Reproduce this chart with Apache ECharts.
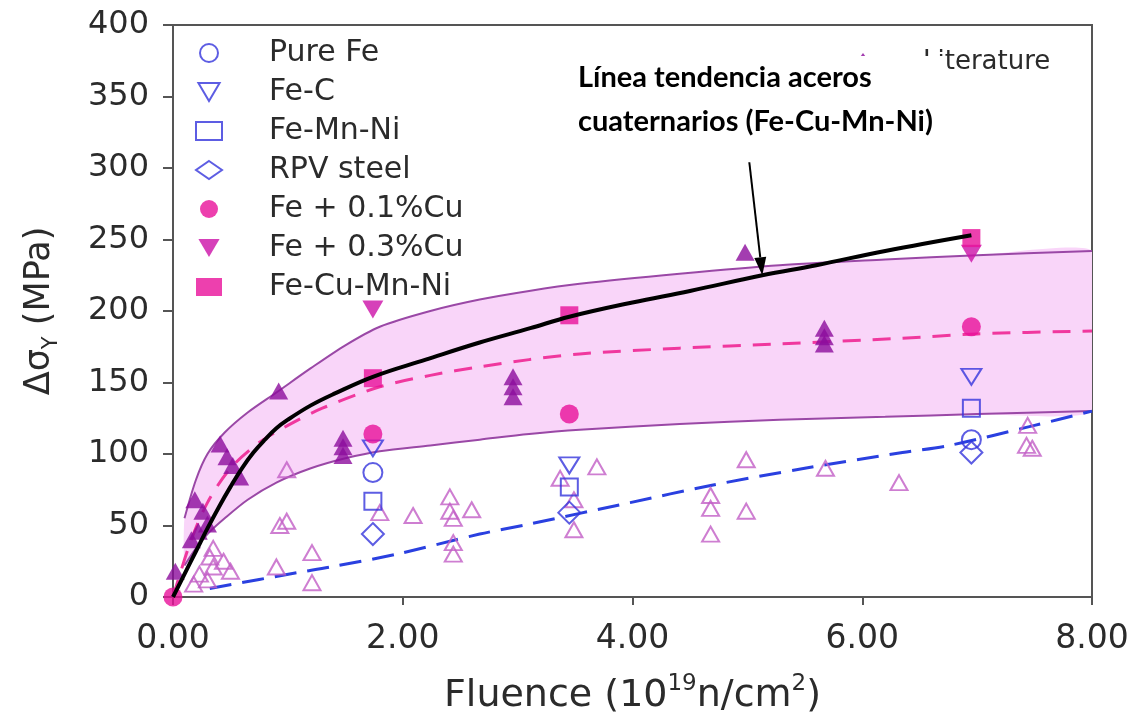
<!DOCTYPE html>
<html>
<head>
<meta charset="utf-8">
<script src="https://cdn.jsdelivr.net/npm/echarts@6/dist/echarts.min.js"></script>
<style>
  html, body { margin: 0; padding: 0; background: #fff; }
  #chart { width: 1138px; height: 724px; }
</style>
</head>
<body>
<div id="chart"></div>
<script>
// ---- data ----
const xTicks = [0, 2, 4, 6, 8];
const yTicks = [0, 50, 100, 150, 200, 250, 300, 350, 400];

const pureFe   = [[1.74, 87], [6.95, 110]];
const feC      = [[1.74, 104], [3.45, 92], [6.95, 154]];
const feMnNi   = [[1.74, 67], [3.45, 77], [6.95, 132]];
const rpvSteel = [[1.74, 44], [3.45, 59], [6.95, 101]];
const fe01Cu   = [[0, 0], [1.74, 114], [3.45, 128], [6.95, 189]];
const fe03Cu   = [[1.74, 201], [6.95, 240]];
const feCuMnNi = [[1.74, 153], [3.45, 197], [6.95, 251]];

const litFilled = [[0.02, 18], [0.16, 40], [0.22, 46], [0.19, 68], [0.26, 60], [0.3, 51],
  [0.41, 107], [0.47, 98], [0.52, 92], [0.58, 84], [0.92, 144],
  [1.48, 111], [1.48, 105], [1.48, 99], [2.96, 154], [2.96, 147], [2.96, 140],
  [4.98, 241], [5.67, 188], [5.67, 182], [5.67, 177]];

const litOpen = [[0.18, 9], [0.23, 16], [0.3, 12], [0.32, 28], [0.35, 21], [0.35, 34],
  [0.44, 25], [0.5, 18], [0.9, 21], [0.93, 50], [0.99, 53], [0.99, 89],
  [1.21, 31], [1.21, 10], [1.8, 59], [2.09, 57], [2.41, 70], [2.41, 60], [2.44, 55],
  [2.6, 61], [2.44, 38], [2.44, 30], [3.37, 83], [3.49, 68], [3.49, 47], [3.69, 91],
  [4.68, 71], [4.68, 62], [4.68, 44], [4.99, 96], [4.99, 60], [5.68, 90], [6.32, 80],
  [7.44, 120], [7.43, 106], [7.48, 104]];

const bandX     = [0.1, 0.2, 0.3, 0.45, 0.65, 0.9, 1.2, 1.5, 1.8, 2.24, 2.67, 3.1, 3.54, 4.41, 5.28, 6.2, 7.0, 8.0];
const bandUpper = [55, 82, 100, 115, 129, 143, 160, 176, 189, 200, 208, 214, 219, 226, 232, 236, 239, 242];
const bandLower = [22, 34, 44, 55, 68, 80, 90, 97, 102, 106, 110, 114, 117, 121, 124, 126, 128, 130];

const cuTrend = [[0, 0], [0.15, 38], [0.3, 66], [0.5, 90], [0.75, 108], [1.0, 120], [1.3, 132], [1.8, 147],
  [2.24, 155], [2.67, 161], [3.1, 166], [3.54, 170], [4.41, 174], [5.28, 177], [6.35, 181], [7.0, 184], [8.0, 186]];

const blueTrend = [[0.32, 6], [1.08, 17], [1.37, 21], [1.95, 30], [2.67, 44], [3.1, 51], [3.98, 66],
  [4.68, 78], [5.5, 90], [6.35, 101], [6.76, 106], [7.5, 120], [8.0, 130]];

const quatTrend = [[0, 0], [0.1, 16], [0.2, 32], [0.3, 48], [0.4, 63], [0.5, 77], [0.6, 90],
  [0.7, 101], [0.8, 110], [0.9, 118], [1.0, 124], [1.2, 134], [1.4, 142], [1.74, 154],
  [2.2, 166], [2.67, 178], [3.11, 188], [3.45, 196], [4.0, 206], [4.5, 214], [5.13, 225],
  [5.6, 232], [6.2, 242], [6.95, 253]];

const arrowTarget = [5.13, 225];
const annotationText = 'Línea tendencia aceros\ncuaternarios (Fe-Cu-Mn-Ni)';

// ---- styles ----
const BLUE = '#3434dc';
const MAGENTA = '#e8109a';
const PURPLE = '#8c0c9c';
const OPEN_TRI = '#c25ec6';
const BAND_FILL = '#f9d5f9';
const BAND_LINE = '#9a48a6';
const TEXT = '#2b2b2b';
const FONT = 'DejaVu Sans';
const DOWN_TRI = 'path://M0,0L20,0L10,17Z';

const openStyle = (c) => ({ color: 'rgba(255,255,255,0)', borderColor: c, borderWidth: 2 });

const bandUpperPts = bandX.map((x, i) => [x, bandUpper[i]]);
const bandLowerPts = bandX.map((x, i) => [x, bandLower[i]]);

const chart = echarts.init(document.getElementById('chart'), null, { renderer: 'canvas' });

const legendText = { fontFamily: FONT, fontSize: 30, color: TEXT, lineHeight: 30, padding: [0, 0, 0, 42] };

const option = {
  backgroundColor: '#fff',
  animation: false,
  grid: { left: 173, right: 46, top: 25, bottom: 121, show: true, borderColor: '#555', borderWidth: 2, backgroundColor: 'transparent' },
  legend: [
    {
      orient: 'vertical', left: 190, top: 33, itemWidth: 26, itemHeight: 18, itemGap: 9,
      textStyle: legendText,
      data: ['Pure Fe', 'Fe-C', 'Fe-Mn-Ni', 'RPV steel', 'Fe + 0.1%Cu', 'Fe + 0.3%Cu', 'Fe-Cu-Mn-Ni']
    },
    {
      orient: 'vertical', left: 845, top: 42, itemWidth: 26, itemHeight: 18, z: 20,
      textStyle: Object.assign({}, legendText, { fontSize: 26 }),
      data: [{ name: 'Literature', icon: 'triangle' }]
    }
  ],
  xAxis: {
    type: 'value', min: xTicks[0], max: xTicks[xTicks.length - 1], interval: 2,
    axisLine: { show: true, lineStyle: { color: '#555', width: 2 } },
    axisTick: { show: true, inside: false, length: 8, lineStyle: { color: '#555', width: 2 } },
    splitLine: { show: false },
    axisLabel: { fontFamily: FONT, fontSize: 33, color: TEXT, margin: 26, formatter: (v) => v.toFixed(2) },
    name: 'Fluence (10{sup|19}n/cm{sup|2})',
    nameLocation: 'middle', nameGap: 76,
    nameTextStyle: {
      fontFamily: FONT, fontSize: 38, color: TEXT, lineHeight: 46,
      rich: { sup: { fontFamily: FONT, fontSize: 23, color: TEXT, verticalAlign: 'top', lineHeight: 24 } }
    }
  },
  yAxis: {
    type: 'value', min: yTicks[0], max: yTicks[yTicks.length - 1], interval: 50,
    axisLine: { show: true, lineStyle: { color: '#555', width: 2 } },
    axisTick: { show: true, inside: false, length: 10, lineStyle: { color: '#555', width: 2 } },
    splitLine: { show: false },
    axisLabel: { fontFamily: FONT, fontSize: 32, color: TEXT, margin: 24 },
    name: 'Δσ{sub|Y} (MPa)',
    nameLocation: 'middle', nameGap: 111, nameRotate: 90,
    nameTextStyle: {
      fontFamily: FONT, fontSize: 35, color: TEXT, lineHeight: 44,
      rich: { sub: { fontFamily: FONT, fontSize: 21, color: TEXT, verticalAlign: 'bottom', lineHeight: 22 } }
    }
  },
  series: [
    {
      name: 'band', type: 'custom', z: 1, silent: true, clip: true,
      data: [bandUpperPts[0]],
      renderItem: function (params, api) {
        const pts = bandUpperPts.map((p) => api.coord(p))
          .concat(bandLowerPts.slice().reverse().map((p) => api.coord(p)));
        return { type: 'polygon', shape: { points: pts, smooth: 0.15 }, style: { fill: BAND_FILL, stroke: null } };
      }
    },
    { name: 'bandUpper', type: 'line', data: bandUpperPts, smooth: 0.3, symbol: 'none', z: 2,
      lineStyle: { color: BAND_LINE, width: 2 } },
    { name: 'bandLower', type: 'line', data: bandLowerPts, smooth: 0.3, symbol: 'none', z: 2,
      lineStyle: { color: BAND_LINE, width: 2 } },
    { name: 'cuTrend', type: 'line', data: cuTrend, smooth: 0.3, symbol: 'none', z: 3,
      lineStyle: { color: '#f0389e', width: 3, type: [18, 12] } },
    { name: 'blueTrend', type: 'line', data: blueTrend, smooth: 0.3, symbol: 'none', z: 3,
      lineStyle: { color: '#2a40e0', width: 3, type: [22, 11] } },
    { name: 'LiteratureOpen', type: 'scatter', data: litOpen, symbol: 'triangle', symbolSize: [17, 15], z: 4,
      itemStyle: openStyle(OPEN_TRI) },
    { name: 'Literature', type: 'scatter', data: litFilled, symbol: 'triangle', symbolSize: [19, 17], z: 4,
      itemStyle: { color: PURPLE } },
    { name: 'Pure Fe', type: 'scatter', data: pureFe, symbol: 'circle', symbolSize: 19, z: 5, itemStyle: openStyle(BLUE) },
    { name: 'Fe-C', type: 'scatter', data: feC, symbol: DOWN_TRI, symbolSize: [20, 16], z: 5, itemStyle: openStyle(BLUE) },
    { name: 'Fe-Mn-Ni', type: 'scatter', data: feMnNi, symbol: 'rect', symbolSize: 17, z: 5, itemStyle: openStyle(BLUE) },
    { name: 'RPV steel', type: 'scatter', data: rpvSteel, symbol: 'diamond', symbolSize: [22, 22], z: 5, itemStyle: openStyle(BLUE) },
    { name: 'Fe + 0.1%Cu', type: 'scatter', data: fe01Cu, symbol: 'circle', symbolSize: 19, z: 6, itemStyle: { color: MAGENTA } },
    { name: 'Fe + 0.3%Cu', type: 'scatter', data: fe03Cu, symbol: DOWN_TRI, symbolSize: [21, 18], z: 6, itemStyle: { color: '#cc10a8' } },
    { name: 'Fe-Cu-Mn-Ni', type: 'scatter', data: feCuMnNi, symbol: 'rect', symbolSize: 18, z: 6, itemStyle: { color: MAGENTA } },
    { name: 'quatTrend', type: 'line', data: quatTrend, smooth: 0.4, symbol: 'none', z: 10,
      lineStyle: { color: '#000', width: 4 } }
  ]
};

chart.setOption(option);

// annotation with arrow pointing at the quaternary trend line
const tip = chart.convertToPixel({ gridIndex: 0 }, arrowTarget);
const start = [tip[0] - 13, tip[1] - 113];
const dx = tip[0] - start[0], dy = tip[1] - start[1];
const len = Math.sqrt(dx * dx + dy * dy);
const ux = dx / len, uy = dy / len;
const headLen = 18, headHalf = 6;
const base = [tip[0] - ux * headLen, tip[1] - uy * headLen];
const left = [base[0] - uy * headHalf, base[1] + ux * headHalf];
const right = [base[0] + uy * headHalf, base[1] - ux * headHalf];

chart.setOption({
  graphic: [
    {
      type: 'text', id: 'note', left: 576, top: 56, z: 100,
      style: {
        text: annotationText, fontFamily: 'Lato', fontWeight: 'bold', fontSize: 29,
        lineHeight: 44, fill: '#000', backgroundColor: '#fff', padding: [0, 14, 4, 2]
      }
    },
    {
      type: 'line', id: 'arrowShaft', z: 100,
      shape: { x1: start[0], y1: start[1], x2: base[0], y2: base[1] },
      style: { stroke: '#000', lineWidth: 2 }
    },
    {
      type: 'polygon', id: 'arrowHead', z: 100,
      shape: { points: [tip, left, right] },
      style: { fill: '#000' }
    }
  ]
});
</script>
</body>
</html>
